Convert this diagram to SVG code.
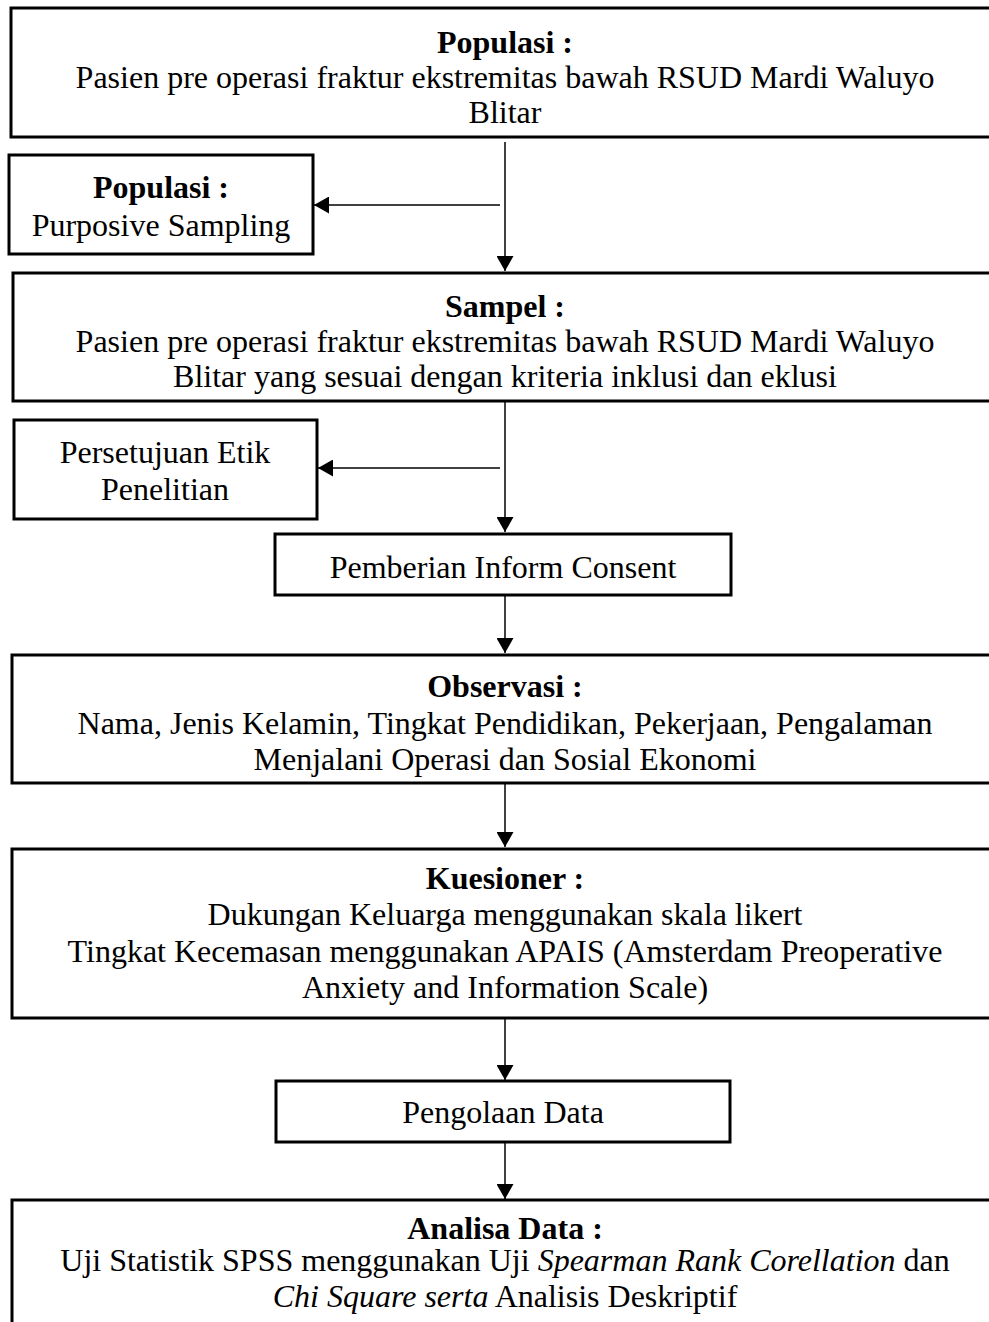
<svg xmlns="http://www.w3.org/2000/svg" width="989" height="1322" viewBox="0 0 989 1322">
<defs>
<marker id="ah" viewBox="0 0 15 17" refX="15" refY="8.5" markerWidth="15" markerHeight="17" markerUnits="userSpaceOnUse" orient="auto"><path d="M0,0 L15,8.5 L0,17 z" fill="#000"/></marker>
<style>
.box{fill:#fff;stroke:#000;stroke-width:3}
.t{font-family:"Liberation Serif","Times New Roman",serif;font-size:32px;fill:#000;text-anchor:middle}
.b{font-weight:bold}
.i{font-style:italic}
.c{stroke:#000;stroke-width:1.5;fill:none;marker-end:url(#ah)}
</style>
</defs>
<rect width="989" height="1322" fill="#fff"/>
<g id="connectors">
<line class="c" x1="505" y1="142" x2="505" y2="271"/>
<line class="c" x1="500" y1="205" x2="314" y2="205"/>
<line class="c" x1="505" y1="402" x2="505" y2="532"/>
<line class="c" x1="500" y1="468" x2="318" y2="468"/>
<line class="c" x1="505" y1="596" x2="505" y2="653"/>
<line class="c" x1="505" y1="784" x2="505" y2="847"/>
<line class="c" x1="505" y1="1019" x2="505" y2="1080"/>
<line class="c" x1="505" y1="1143" x2="505" y2="1199"/>
</g>
<g id="populasi">
<rect class="box" x="11" y="8" width="1000" height="129"/>
<text class="t b" x="505" y="53">Populasi :</text>
<text class="t" x="505" y="88">Pasien pre operasi fraktur ekstremitas bawah RSUD Mardi Waluyo</text>
<text class="t" x="505" y="123">Blitar</text>
</g>
<g id="sampling">
<rect class="box" x="9" y="155" width="304" height="99"/>
<text class="t b" x="161" y="198">Populasi :</text>
<text class="t" x="161" y="236">Purposive Sampling</text>
</g>
<g id="sampel">
<rect class="box" x="13" y="273" width="1000" height="128"/>
<text class="t b" x="505" y="317">Sampel :</text>
<text class="t" x="505" y="352">Pasien pre operasi fraktur ekstremitas bawah RSUD Mardi Waluyo</text>
<text class="t" x="505" y="387">Blitar yang sesuai dengan kriteria inklusi dan eklusi</text>
</g>
<g id="etik">
<rect class="box" x="14" y="420" width="303" height="99"/>
<text class="t" x="165" y="463">Persetujuan Etik</text>
<text class="t" x="165" y="500">Penelitian</text>
</g>
<g id="consent">
<rect class="box" x="275" y="534" width="456" height="61"/>
<text class="t" x="503" y="578">Pemberian Inform Consent</text>
</g>
<g id="observasi">
<rect class="box" x="12" y="655" width="1000" height="128"/>
<text class="t b" x="505" y="697">Observasi :</text>
<text class="t" x="505" y="734">Nama, Jenis Kelamin, Tingkat Pendidikan, Pekerjaan, Pengalaman</text>
<text class="t" x="505" y="770">Menjalani Operasi dan Sosial Ekonomi</text>
</g>
<g id="kuesioner">
<rect class="box" x="12" y="849" width="1000" height="169"/>
<text class="t b" x="505" y="889">Kuesioner :</text>
<text class="t" x="505" y="925">Dukungan Keluarga menggunakan skala likert</text>
<text class="t" x="505" y="962">Tingkat Kecemasan menggunakan APAIS (Amsterdam Preoperative</text>
<text class="t" x="505" y="998">Anxiety and Information Scale)</text>
</g>
<g id="pengolaan">
<rect class="box" x="276" y="1081" width="454" height="61"/>
<text class="t" x="503" y="1123">Pengolaan Data</text>
</g>
<g id="analisa">
<rect class="box" x="12" y="1200" width="1000" height="160"/>
<text class="t b" x="505" y="1239">Analisa Data :</text>
<text class="t" x="505" y="1271">Uji Statistik SPSS menggunakan Uji <tspan class="i">Spearman Rank Corellation</tspan> dan</text>
<text class="t" x="505" y="1307"><tspan class="i">Chi Square serta</tspan> Analisis Deskriptif</text>
</g>
</svg>
